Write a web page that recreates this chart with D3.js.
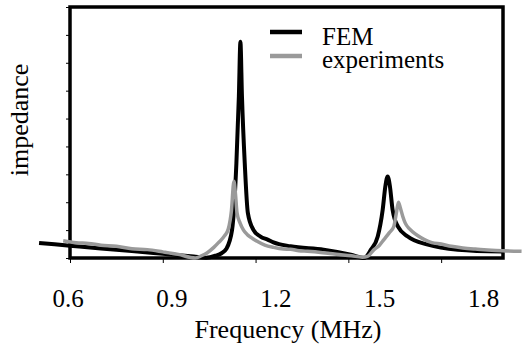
<!DOCTYPE html>
<html>
<head>
<meta charset="utf-8">
<script src="https://cdn.jsdelivr.net/npm/d3@7"></script>
</head>
<body style="margin:0">
<svg id="chart" width="522" height="349">
<text x="288" y="338" text-anchor="middle" style="font-family:'Liberation Serif';font-size:26px">Frequency (MHz)</text>
<text transform="translate(28,120) rotate(-90)" text-anchor="middle" style="font-family:'Liberation Serif';font-size:26px">impedance</text>
</svg>
<script>
// impedance curves (arbitrary units, 0..9)
var femFreq = [0.50, 0.60, 0.70, 0.80, 0.90, 1.00, 1.04, 1.07, 1.09, 1.105, 1.124, 1.138, 1.146, 1.151, 1.156, 1.165, 1.175, 1.193, 1.216, 1.239, 1.258, 1.313, 1.42, 1.508, 1.551, 1.573, 1.595, 1.611, 1.620, 1.627, 1.634, 1.643, 1.660, 1.692, 1.757, 1.854, 2.0];
var femVal  = [0.54, 0.44, 0.34, 0.25, 0.15, 0.05, 0.01, 0.08, 0.17, 0.32, 1.01, 3.4, 5.8, 7.75, 5.8, 3.4, 1.62, 1.01, 0.77, 0.66, 0.56, 0.42, 0.30, 0.12, 0.0, 0.30, 0.77, 1.73, 2.6, 2.92, 2.6, 1.73, 1.13, 0.77, 0.48, 0.30, 0.23];

var expFreq = [0.578, 0.62, 0.66, 0.70, 0.75, 0.80, 0.85, 0.90, 0.95, 1.005, 1.025, 1.044, 1.065, 1.08, 1.10, 1.112, 1.122, 1.13, 1.135, 1.14, 1.15, 1.161, 1.175, 1.19, 1.205, 1.23, 1.258, 1.29, 1.313, 1.34, 1.368, 1.41, 1.44, 1.476, 1.51, 1.545, 1.562, 1.583, 1.60, 1.615, 1.632, 1.647, 1.655, 1.662, 1.668, 1.676, 1.684, 1.697, 1.71, 1.725, 1.746, 1.77, 1.80, 1.833, 1.87, 1.91, 1.95, 2.0, 2.06];
var expVal  = [0.62, 0.55, 0.52, 0.46, 0.42, 0.33, 0.30, 0.22, 0.13, 0.0, 0.08, 0.19, 0.38, 0.55, 0.80, 1.05, 1.7, 2.75, 2.3, 1.62, 1.25, 1.0, 0.82, 0.70, 0.6, 0.46, 0.38, 0.32, 0.31, 0.26, 0.24, 0.20, 0.16, 0.12, 0.08, 0.03, 0.06, 0.30, 0.45, 0.66, 0.9, 1.13, 1.6, 2.0, 1.8, 1.49, 1.25, 1.05, 0.92, 0.80, 0.66, 0.55, 0.50, 0.42, 0.36, 0.32, 0.29, 0.26, 0.24];

var xTicks = [0.6, 0.9, 1.2, 1.5, 1.8];
var yTicks = [0, 1, 2, 3, 4, 5, 6, 7, 8, 9];

var seriesNames = ["FEM", "experiments"];
var seriesColors = ["#000000", "#9a9a9a"];

//---------setup plot-----------------------//
var W = 522, H = 349;
var margin = { top: 7, right: 19, bottom: 91, left: 70 },
    width = W - margin.left - margin.right,
    height = H - margin.top - margin.bottom;

var x = d3.scaleLinear().domain([0.6, 2.0]).range([0, width]);
var y = d3.scaleLinear().domain([0, 9]).range([height, 0]);
// tick labels in the original sit on a slightly wider spacing than the ticks
var xLab = d3.scaleLinear().domain([0.6, 1.8]).range([-2.5, 413]);

var svg = d3.select("#chart");

var g = svg.append("g")
    .attr("transform", "translate(" + margin.left + "," + margin.top + ")");

// y ticks (no labels)
var yAx = g.append("g")
    .call(d3.axisLeft(y).tickValues(yTicks).tickSize(4).tickFormat(""));
yAx.select(".domain").remove();
yAx.selectAll("text").remove();

// x ticks
var xAx = g.append("g")
    .attr("transform", "translate(0," + height + ")")
    .call(d3.axisBottom(x).tickValues(xTicks).tickSize(5).tickFormat(""));
xAx.select(".domain").remove();
xAx.selectAll("text").remove();

// x tick labels
var xLabAx = g.append("g")
    .attr("transform", "translate(0," + height + ")")
    .call(d3.axisBottom(xLab).tickValues(xTicks).tickSize(0).tickPadding(0).tickFormat(d3.format(".1f")));
xLabAx.select(".domain").remove();
xLabAx.attr("font-family", null).attr("font-size", null);
xLabAx.selectAll("text")
    .attr("y", 49)
    .attr("dy", null)
    .style("font-family", "'Liberation Serif'")
    .style("font-size", "25px");

// frame
g.append("rect")
    .attr("x", 0).attr("y", 0)
    .attr("width", width).attr("height", height)
    .attr("fill", "none")
    .attr("stroke", "#000")
    .attr("stroke-width", 3.5);

//-------------data----------//
var line = d3.line()
    .curve(d3.curveMonotoneX)
    .x(function(d) { return x(d[0]); })
    .y(function(d) { return y(d[1]); });

var fem = d3.zip(femFreq, femVal);
var expt = d3.zip(expFreq, expVal);

g.append("path")
    .attr("d", line(fem))
    .attr("fill", "none")
    .attr("stroke", seriesColors[0])
    .attr("stroke-width", 4)
    .attr("stroke-linejoin", "round");

g.append("path")
    .attr("d", line(expt))
    .attr("fill", "none")
    .attr("stroke", seriesColors[1])
    .attr("stroke-width", 3.5)
    .attr("stroke-linejoin", "round");

// legend
var leg = g.append("g").attr("transform", "translate(200,25)");
seriesNames.forEach(function(name, i) {
    leg.append("line")
        .attr("x1", 0).attr("x2", 32)
        .attr("y1", i * 24).attr("y2", i * 24)
        .attr("stroke", seriesColors[i])
        .attr("stroke-width", 4.5);
    leg.append("text")
        .attr("x", 52)
        .attr("y", i * 23 + 13)
        .style("font-family", "'Liberation Serif'")
        .style("font-size", "25px")
        .text(name);
});
</script>
</body>
</html>
